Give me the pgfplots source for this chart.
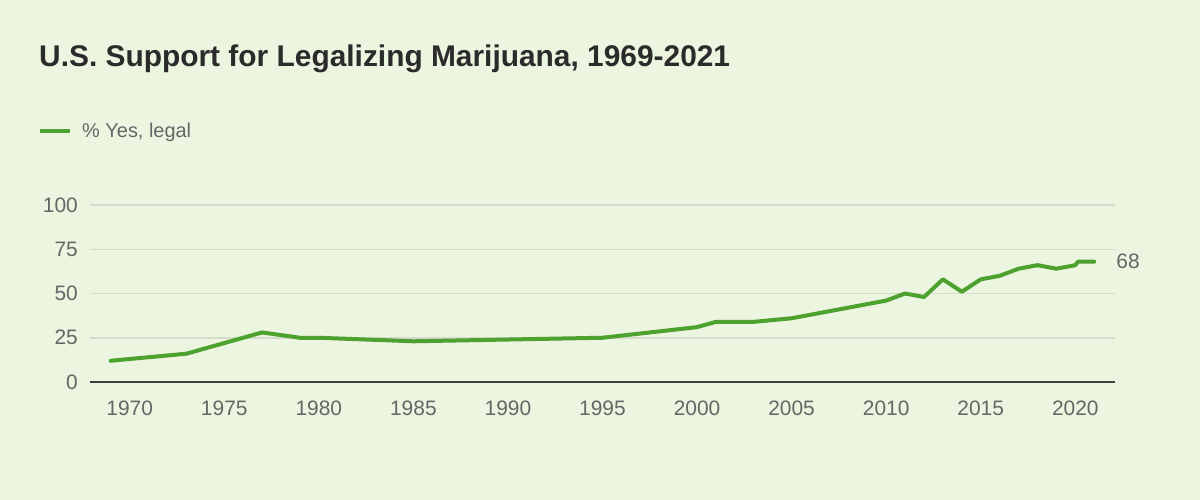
\documentclass[border=0pt]{standalone}
\usepackage{fontspec}
\setmainfont{Liberation Sans}
\usepackage{pgfplots}
\pgfplotsset{compat=1.18}
\definecolor{bg}{HTML}{ECF5DF}
\definecolor{gallupgreen}{HTML}{4CA12F}
\definecolor{gridc}{HTML}{D6DCCB}
\definecolor{txt}{HTML}{666666}
\definecolor{ttl}{HTML}{2B2B2B}
\begin{document}
\begin{tikzpicture}
  \fill[bg] (-90bp,-118bp) rectangle (1110bp,382bp);
  \useasboundingbox (-90bp,-118bp) rectangle (1110bp,382bp);
  % title and legend
  \node[anchor=west, inner sep=0pt, text=ttl, font=\bfseries\fontsize{30}{34}\selectfont]
    at (-51bp,323bp) {U.S. Support for Legalizing Marijuana, 1969-2021};
  \draw[gallupgreen, line width=4bp] (-50bp,251bp) -- (-20bp,251bp);
  \node[anchor=west, inner sep=0pt, text=txt, font=\fontsize{20}{24}\selectfont]
    at (-8bp,250bp) {\% Yes, legal};
  \begin{axis}[
    at={(0,0)}, anchor=south west,
    scale only axis,
    width=1025bp, height=177bp,
    xmin=1967.9, xmax=2022.1,
    ymin=0, ymax=100,
    xtick={1970,1975,...,2020},
    ytick={0,25,50,75,100},
    major tick length=0pt,
    ymajorgrids,
    grid style={gridc, line width=1.5bp},
    axis x line*=bottom,
    axis y line*=left,
    x axis line style={draw=ttl!90, line width=2.5bp, -},
    y axis line style={draw=none},
    /pgf/number format/assume math mode=true,
    /pgf/number format/1000 sep={},
    xticklabel style={anchor=base, inner sep=0pt, yshift=-33bp,
      text=txt, font=\fontsize{21}{24}\selectfont},
    yticklabel style={anchor=east, inner sep=0pt, xshift=-12bp,
      text=txt, font=\fontsize{21}{24}\selectfont},
    clip=false,
  ]
    \addplot[gallupgreen, line width=4bp, line join=round, line cap=round] coordinates {
      (1969,12) (1973,16) (1977,28) (1979,25) (1980,25) (1985,23)
      (1995,25) (2000,31) (2001,34) (2003,34) (2005,36) (2009,44)
      (2010,46) (2011,50) (2012,48) (2013,58) (2014,51) (2015,58)
      (2016,60) (2017,64) (2018,66) (2019,64) (2020,66) (2020.15,68)
      (2021,68)
    };
    \node[anchor=west, inner sep=0pt, xshift=22bp, text=txt,
      font=\fontsize{21}{24}\selectfont] at (axis cs:2021,68) {68};
  \end{axis}
\end{tikzpicture}
\end{document}
